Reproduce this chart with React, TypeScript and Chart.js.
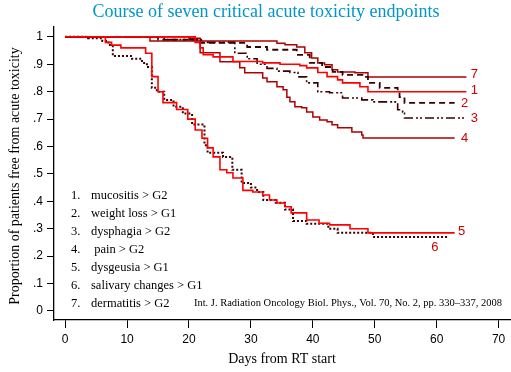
import React, { useEffect, useRef } from 'react';
import { Chart, registerables } from 'chart.js';

Chart.register(...registerables);

const titleText = 'Course of seven critical acute toxicity endpoints';
const xAxisTitle = 'Days from RT start';
const yAxisTitle = 'Proportion of patients free from acute toxicity';
const citation = 'Int. J. Radiation Oncology Biol. Phys., Vol. 70, No. 2, pp. 330\u2013337, 2008';

const xTicks = [0, 10, 20, 30, 40, 50, 60, 70];
const yTicks = [0, 0.1, 0.2, 0.3, 0.4, 0.5, 0.6, 0.7, 0.8, 0.9, 1];
const yTickLabels = ['0', '.1', '.2', '.3', '.4', '.5', '.6', '.7', '.8', '.9', '1'];

const legendNumbers = ['1.', '2.', '3.', '4.', '5.', '6.', '7.'];
const legendNames = ['mucositis > G2', 'weight loss > G1', 'dysphagia > G2', ' pain > G2', 'dysgeusia > G1', 'salivary changes > G1', 'dermatitis > G2'];
const curveLabels = ['1', '2', '3', '4', '5', '6', '7'];

// 1. mucositis
const days1 = [0, 21, 21.8, 22.3, 23.9, 27.1, 31.9, 34.7, 37.9, 39, 40.8, 42.3, 44, 44.8, 47.6, 48.9, 64.8];
const surv1 = [1, 0.98, 0.96, 0.935, 0.927, 0.91, 0.905, 0.9, 0.895, 0.887, 0.87, 0.855, 0.843, 0.832, 0.818, 0.8, 0.8];
// 2. weight loss
const days2 = [0, 15, 21.8, 29.4, 32.6, 37.4, 39.5, 41.5, 43.2, 44.8, 48, 48.9, 50.8, 53.7, 54, 54.8, 62.9];
const surv2 = [1, 0.99, 0.978, 0.963, 0.953, 0.934, 0.905, 0.89, 0.872, 0.861, 0.854, 0.832, 0.814, 0.8, 0.78, 0.759, 0.759];
// 3. dysphagia
const days3 = [0, 16, 22, 27.4, 29.4, 31, 32.6, 34.2, 36.3, 37.6, 39, 40.8, 42.7, 44.8, 47.9, 49.7, 53.5, 53.7, 54.5, 54.8, 64.8];
const surv3 = [1, 0.99, 0.98, 0.94, 0.92, 0.9, 0.885, 0.875, 0.87, 0.854, 0.832, 0.8, 0.796, 0.777, 0.77, 0.763, 0.759, 0.734, 0.726, 0.704, 0.704];
// 4. pain
const days4 = [0, 20, 21.8, 25, 28.2, 29, 31.9, 32.6, 34.2, 35.2, 35.8, 36.3, 37.1, 38.2, 39, 40, 41.1, 42.3, 43.1, 44, 46.3, 47.9, 48.1, 62.9];
const surv4 = [1, 0.995, 0.942, 0.909, 0.887, 0.869, 0.85, 0.836, 0.818, 0.807, 0.78, 0.763, 0.745, 0.741, 0.726, 0.708, 0.697, 0.69, 0.679, 0.668, 0.653, 0.642, 0.631, 0.631];
// 5. dysgeusia
const days5 = [0, 6.5, 7.5, 9, 13, 14, 15, 15.8, 18, 19.8, 21, 22.1, 23, 23.9, 25, 26.1, 27.1, 28.7, 30.3, 31.9, 33, 34.2, 35.5, 36.5, 39, 41, 42.7, 46, 48.9, 62.9];
const surv5 = [1, 0.98, 0.97, 0.96, 0.94, 0.855, 0.8, 0.76, 0.735, 0.7, 0.66, 0.63, 0.595, 0.562, 0.515, 0.504, 0.485, 0.44, 0.434, 0.423, 0.405, 0.394, 0.38, 0.358, 0.332, 0.32, 0.314, 0.3, 0.285, 0.285];
// 6. salivary changes
const days6 = [0, 3.7, 6, 7, 7.7, 10.8, 12.4, 13.2, 14, 14.8, 16, 17.5, 19, 20.5, 22.5, 23, 25.5, 27, 28.5, 30, 31, 32, 34, 35.5, 36.8, 39, 42.5, 44, 49.7, 61.8];
const surv6 = [1, 0.995, 0.985, 0.97, 0.93, 0.92, 0.905, 0.89, 0.814, 0.8, 0.77, 0.745, 0.72, 0.68, 0.605, 0.577, 0.562, 0.515, 0.467, 0.45, 0.434, 0.405, 0.395, 0.37, 0.328, 0.318, 0.3, 0.285, 0.27, 0.27];
// 7. dermatitis
const days7 = [0, 13.7, 34.2, 35.5, 37.4, 38.7, 39.8, 40.8, 41.9, 43.1, 44, 46.8, 48.9, 64.8];
const surv7 = [1, 0.985, 0.977, 0.971, 0.963, 0.942, 0.923, 0.905, 0.898, 0.88, 0.872, 0.869, 0.854, 0.854];

const allDays = [days1, days2, days3, days4, days5, days6, days7];
const allSurv = [surv1, surv2, surv3, surv4, surv5, surv6, surv7];

const RED = '#FF0000';
const DARK = '#3A0000';
const MID = '#B00000';
const curveStyles = [
  { color: RED, dash: [] as number[], width: 1.6 },
  { color: DARK, dash: [6, 4], width: 1.8 },
  { color: DARK, dash: [9, 3, 2, 2, 2, 3], width: 1.6 },
  { color: MID, dash: [] as number[], width: 1.5 },
  { color: RED, dash: [] as number[], width: 1.6 },
  { color: DARK, dash: [2, 2], width: 2 },
  { color: MID, dash: [] as number[], width: 1.5 },
];

const labelOffsets = [
  [8, -1], [10, 0], [8, 0], [10, 0], [7, -1], [-13, 10], [8, -2],
];

const textPlugin = {
  id: 'texts',
  afterDraw(chart: any) {
    const ctx = chart.ctx as CanvasRenderingContext2D;
    const xs = chart.scales.x;
    const ys = chart.scales.y;
    ctx.save();
    ctx.textBaseline = 'middle';
    // title
    ctx.fillStyle = '#0096C8';
    ctx.font = '18px "Liberation Serif", serif';
    ctx.textAlign = 'center';
    ctx.fillText(titleText, 266, 12);
    // x title
    ctx.fillStyle = '#000';
    ctx.font = '14px "Liberation Serif", serif';
    ctx.fillText(xAxisTitle, 282, 359);
    // y title
    ctx.save();
    ctx.translate(15, 176);
    ctx.rotate(-Math.PI / 2);
    ctx.fillText(yAxisTitle, 0, 0);
    ctx.restore();
    // legend
    ctx.font = '12.5px "Liberation Serif", serif';
    ctx.textAlign = 'left';
    for (let i = 0; i < legendNumbers.length; i++) {
      const y = 196 + i * 18;
      ctx.fillText(legendNumbers[i], 71, y);
      ctx.fillText(legendNames[i], 91, y);
    }
    // citation
    ctx.font = '10.5px "Liberation Serif", serif';
    ctx.textAlign = 'right';
    ctx.fillText(citation, 502, 303);
    // curve labels
    ctx.font = '13px "Liberation Sans", sans-serif';
    ctx.textAlign = 'center';
    ctx.fillStyle = '#D00000';
    for (let i = 0; i < curveLabels.length; i++) {
      const d = allDays[i];
      const s = allSurv[i];
      const px = xs.getPixelForValue(d[d.length - 1]) + labelOffsets[i][0];
      const py = ys.getPixelForValue(s[s.length - 1]) + labelOffsets[i][1];
      ctx.fillText(curveLabels[i], px, py);
    }
    ctx.restore();
  },
};

export default function App() {
  const ref = useRef<HTMLCanvasElement | null>(null);
  useEffect(() => {
    if (!ref.current) return;
    const datasets = allDays.map((d, i) => ({
      label: curveLabels[i],
      data: d.map((x, j) => ({ x, y: allSurv[i][j] })),
      borderColor: curveStyles[i].color,
      borderWidth: curveStyles[i].width,
      borderDash: curveStyles[i].dash,
      stepped: 'before' as const,
      pointRadius: 0,
      fill: false,
      tension: 0,
    }));
    const chart = new Chart(ref.current, {
      type: 'line',
      data: { datasets },
      options: {
        animation: false,
        responsive: false,
        maintainAspectRatio: false,
        layout: { padding: { top: 27, right: 0, left: 0, bottom: 0 } },
        plugins: { legend: { display: false }, tooltip: { enabled: false }, title: { display: false } },
        scales: {
          x: {
            type: 'linear',
            min: -1.8,
            max: 72,
            afterBuildTicks: (scale: any) => { scale.ticks = xTicks.map((v) => ({ value: v })); },
            afterFit: (scale: any) => { scale.height = 52; },
            grid: { display: true, drawOnChartArea: false, drawTicks: true, tickLength: 8, color: '#000', lineWidth: 1 },
            border: { display: true, color: '#000', width: 1.3 },
            ticks: {
              color: '#000',
              font: { family: '"Liberation Sans", sans-serif', size: 12 },
              padding: 4,
              maxRotation: 0,
              autoSkip: false,
              callback: (v: any) => String(v),
            },
          },
          y: {
            type: 'linear',
            min: -0.033,
            max: 1.036,
            afterBuildTicks: (scale: any) => { scale.ticks = yTicks.map((v) => ({ value: v })); },
            afterFit: (scale: any) => { scale.width = 54; },
            grid: { display: true, drawOnChartArea: false, drawTicks: true, tickLength: 7, color: '#000', lineWidth: 1 },
            border: { display: true, color: '#000', width: 1.3 },
            ticks: {
              color: '#000',
              font: { family: '"Liberation Sans", sans-serif', size: 12 },
              padding: 4,
              autoSkip: false,
              callback: (v: any) => {
                const idx = yTicks.findIndex((t) => Math.abs(t - Number(v)) < 1e-6);
                return idx >= 0 ? yTickLabels[idx] : '';
              },
            },
          },
        },
      },
      plugins: [textPlugin],
    });
    return () => chart.destroy();
  }, []);
  return (
    <div style={{ position: 'fixed', left: 0, top: 0, width: 511, height: 372, background: '#fff' }}>
      <canvas ref={ref} width={511} height={372} style={{ width: 511, height: 372, display: 'block' }} />
    </div>
  );
}
